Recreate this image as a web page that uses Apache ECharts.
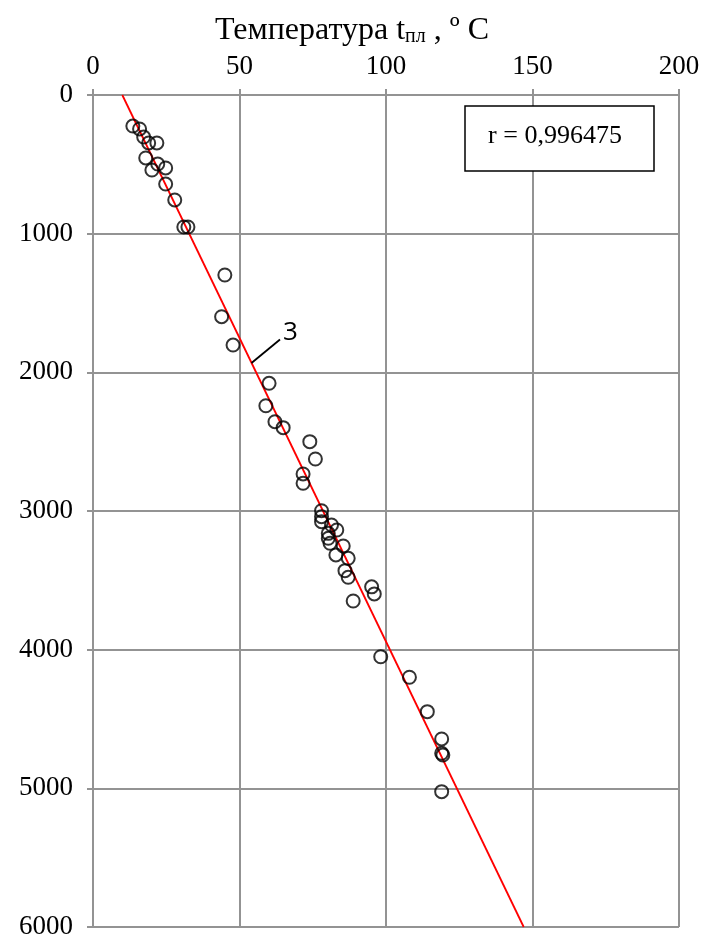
<!DOCTYPE html>
<html>
<head>
<meta charset="utf-8">
<script src="https://cdn.jsdelivr.net/npm/echarts@6/dist/echarts.min.js"></script>
<style>
  html, body { margin: 0; padding: 0; background: #fff; }
  #chart { width: 704px; height: 942px; }
</style>
</head>
<body>
<div id="chart"></div>
<script>
// Formation temperature (°C) versus depth (m)
const temperature = [
  13.6, 15.9, 17.3, 19.0, 21.8, 18.0, 22.1, 24.8, 20.1, 24.8, 27.9, 31.0, 32.4,
  45.0, 43.9, 47.8, 60.1, 59.0, 62.1, 64.9, 74.0, 75.9, 71.7, 71.7,
  78.0, 78.0, 78.0, 81.4, 83.2, 80.3, 80.3, 80.9, 85.4, 82.9, 87.1, 86.0, 87.1,
  95.1, 96.0, 88.8,
  98.2, 108.0, 114.1, 119.0, 119.0, 119.4, 119.0
];
const depth = [
  224, 245, 303, 346, 346, 454, 498, 526, 541, 642, 757, 952, 952,
  1298, 1599, 1803, 2079, 2241, 2356, 2399, 2500, 2625, 2733, 2800,
  2998, 3041, 3077, 3101, 3137, 3161, 3197, 3233, 3252, 3317, 3341, 3430, 3478,
  3547, 3598, 3649,
  4051, 4199, 4447, 4644, 4747, 4760, 5024
];
// Regression line end points (temperature, depth)
const trendT = [10, 147];
const trendH = [0, 6000];

const xTicks = [0, 50, 100, 150, 200];
const yTicks = [0, 1000, 2000, 3000, 4000, 5000, 6000];
const corrText = 'r = 0,996475';
const lineTag = '3';

const points = temperature.map((t, i) => [t, depth[i]]);
const trend = trendT.map((t, i) => [t, trendH[i]]);

const serif = '"Liberation Serif", "Times New Roman", serif';
const gridColor = '#939393';

const chart = echarts.init(document.getElementById('chart'));
chart.setOption({
  animation: false,
  backgroundColor: '#fff',
  title: {
    text: '{a|Температура t}{s|пл}{a| , º C}',
    left: 'center',
    top: 14,
    padding: 0,
    textStyle: {
      fontWeight: 'normal',
      rich: {
        a: { fontFamily: serif, fontSize: 32, fontWeight: 'normal', color: '#000' },
        s: { fontFamily: serif, fontSize: 20, fontWeight: 'normal', color: '#000', padding: [13, 0, 0, 0] }
      }
    }
  },
  grid: { left: 93, top: 95, right: 25, bottom: 15, containLabel: false },
  xAxis: {
    type: 'value',
    position: 'top',
    min: xTicks[0],
    max: xTicks[xTicks.length - 1],
    interval: xTicks[1] - xTicks[0],
    axisLine: { show: true, lineStyle: { color: gridColor, width: 2 } },
    axisTick: { show: true, length: 6, lineStyle: { color: gridColor, width: 2 } },
    axisLabel: { fontFamily: serif, fontSize: 27, color: '#000', margin: 15, formatter: v => String(v) },
    splitLine: { show: true, lineStyle: { color: gridColor, width: 2 } }
  },
  yAxis: {
    type: 'value',
    inverse: true,
    min: yTicks[0],
    max: yTicks[yTicks.length - 1],
    interval: yTicks[1] - yTicks[0],
    axisLine: { show: true, lineStyle: { color: gridColor, width: 2 } },
    axisTick: { show: true, length: 6, lineStyle: { color: gridColor, width: 2 } },
    axisLabel: { fontFamily: serif, fontSize: 27, color: '#000', margin: 20, formatter: v => String(v) },
    splitLine: { show: true, lineStyle: { color: gridColor, width: 2 } }
  },
  series: [
    {
      type: 'line',
      data: trend,
      showSymbol: false,
      lineStyle: { color: '#ff0000', width: 1.8 },
      z: 3
    },
    {
      type: 'scatter',
      data: points,
      symbol: 'circle',
      symbolSize: 13,
      itemStyle: { color: 'rgba(0,0,0,0)', borderColor: '#000', borderWidth: 2 },
      z: 4
    }
  ],
  graphic: [
    {
      type: 'rect',
      shape: { x: 465, y: 106, width: 189, height: 65 },
      style: { fill: '#fff', stroke: '#000', lineWidth: 1.5 },
      z: 10
    },
    {
      type: 'text',
      x: 555, y: 136,
      style: {
        text: corrText, fontFamily: serif, fontSize: 26, fill: '#000',
        align: 'center', verticalAlign: 'middle'
      },
      z: 11
    },
    {
      type: 'line',
      shape: { x1: 251.5, y1: 363, x2: 280, y2: 339.5 },
      style: { stroke: '#000', lineWidth: 1.8 },
      z: 10
    },
    {
      type: 'text',
      x: 283, y: 333,
      style: {
        text: lineTag, fontFamily: '"Open Sans", "Noto Sans", sans-serif', fontSize: 26, fill: '#000',
        align: 'left', verticalAlign: 'middle'
      },
      z: 11
    }
  ]
});
</script>
</body>
</html>
